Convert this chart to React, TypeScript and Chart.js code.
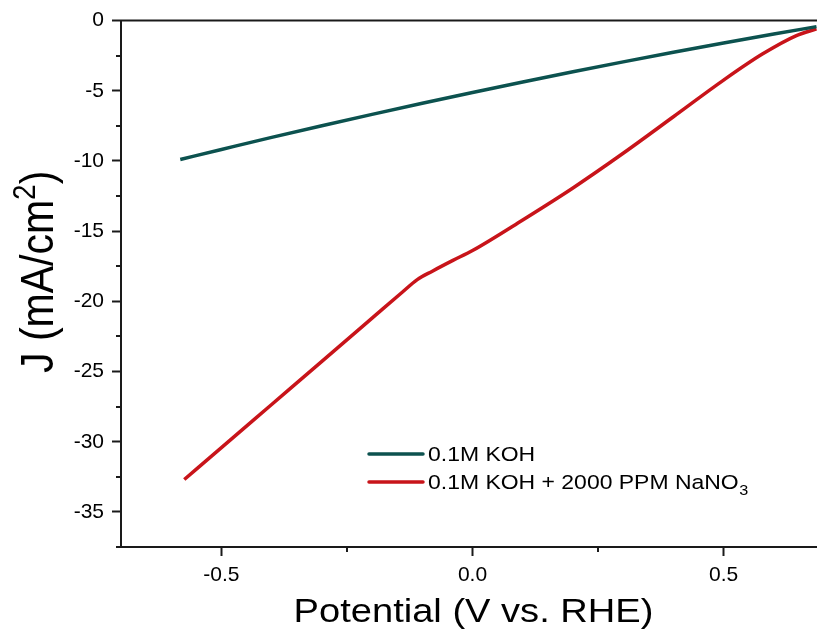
import React, { useEffect, useRef } from 'react';
import { Chart, registerables } from 'chart.js';

Chart.register(...registerables);

// ---- data ----
const seriesNames = ['0.1M KOH', '0.1M KOH + 2000 PPM NaNO₃'];
const seriesColors = ['#0c524f', '#c8141a'];

const kohPotential = [-0.582, -0.5, -0.4, -0.3, -0.2, -0.1, 0.0, 0.1, 0.2, 0.3, 0.4, 0.5, 0.6, 0.685];
const kohCurrent = [-9.89, -9.18, -8.32, -7.49, -6.68, -5.89, -5.12, -4.37, -3.64, -2.94, -2.26, -1.6, -0.96, -0.43];

const nitratePotential = [-0.574, -0.5, -0.4, -0.3, -0.2, -0.14, -0.11, -0.08, -0.04, 0.0, 0.1, 0.2, 0.3, 0.4, 0.5, 0.578, 0.645, 0.685];
const nitrateCurrent = [-32.69, -30.42, -27.35, -24.28, -21.2, -19.35, -18.45, -17.85, -17.1, -16.38, -14.2, -11.92, -9.45, -6.85, -4.24, -2.37, -1.07, -0.59];

const xMinorTicks = [-0.25, 0.25];
const yMinorTicks = [-2.5, -7.5, -12.5, -17.5, -22.5, -27.5, -32.5, -37.5];

const xTitle = 'Potential (V vs. RHE)';
const yTitleMain = 'J (mA/cm';
const yTitleSup = '2';
const yTitleEnd = ')';

const FONT = "'Liberation Sans', Arial, sans-serif";
const AXIS_COLOR = '#1a1a1a';
const STRETCH = 1.12;

const decorPlugin = {
  id: 'decor',
  afterDraw(chart: any) {
    const { ctx, chartArea: a, scales } = chart;
    const x = scales.x;
    const y = scales.y;
    ctx.save();
    ctx.strokeStyle = AXIS_COLOR;
    ctx.lineWidth = 2;
    ctx.beginPath();
    ctx.moveTo(a.left - 1, a.top);
    ctx.lineTo(a.right + 2, a.top);
    ctx.stroke();
    ctx.beginPath();
    for (const v of xMinorTicks) {
      const px = Math.round(x.getPixelForValue(v));
      ctx.moveTo(px, a.bottom);
      ctx.lineTo(px, a.bottom + 5);
    }
    for (const v of yMinorTicks) {
      const py = Math.round(y.getPixelForValue(v));
      ctx.moveTo(a.left, py);
      ctx.lineTo(a.left - 5, py);
    }
    ctx.stroke();

    // x axis title
    ctx.fillStyle = '#000';
    ctx.save();
    ctx.translate((a.left + a.right) / 2 + 4.5, 622);
    ctx.scale(STRETCH, 1);
    ctx.font = `34px ${FONT}`;
    ctx.textAlign = 'center';
    ctx.textBaseline = 'alphabetic';
    ctx.fillText(xTitle, 0, 0);
    ctx.restore();

    // y axis title (rotated, with superscript)
    ctx.save();
    ctx.translate(53, 373);
    ctx.rotate(-Math.PI / 2);
    ctx.scale(1, STRETCH);
    ctx.textAlign = 'left';
    ctx.textBaseline = 'alphabetic';
    ctx.font = `41px ${FONT}`;
    ctx.fillText(yTitleMain, 0, 0);
    let w = ctx.measureText(yTitleMain).width;
    ctx.font = `28px ${FONT}`;
    ctx.fillText(yTitleSup, w, -16);
    w += ctx.measureText(yTitleSup).width;
    ctx.font = `41px ${FONT}`;
    ctx.fillText(yTitleEnd, w, 0);
    ctx.restore();

    // legend
    const lx1 = a.left + 248;
    const lx2 = a.left + 302;
    const tx = a.left + 307;
    const rows = [a.top + 433.5, a.top + 461.5];
    chart.data.datasets.forEach((ds: any, i: number) => {
      const yy = rows[i];
      ctx.strokeStyle = ds.borderColor;
      ctx.lineWidth = 3.5;
      ctx.lineCap = 'round';
      ctx.beginPath();
      ctx.moveTo(lx1, yy);
      ctx.lineTo(lx2, yy);
      ctx.stroke();
      ctx.fillStyle = '#000';
      ctx.save();
      ctx.translate(tx, yy + 1);
      ctx.scale(STRETCH, 1);
      ctx.textBaseline = 'middle';
      ctx.textAlign = 'left';
      const label: string = ds.label;
      const subIdx = label.indexOf('₃');
      ctx.font = `20.5px ${FONT}`;
      if (subIdx >= 0) {
        const base = label.slice(0, subIdx);
        ctx.fillText(base, 0, 0);
        const bw = ctx.measureText(base).width;
        ctx.font = `14.5px ${FONT}`;
        ctx.fillText('3', bw + 0.5, 8);
      } else {
        ctx.fillText(label, 0, 0);
      }
      ctx.restore();
    });
    ctx.restore();
  },
};

export default function App() {
  const ref = useRef<HTMLCanvasElement | null>(null);
  useEffect(() => {
    if (!ref.current) return;
    const chart = new Chart(ref.current, {
      type: 'line',
      data: {
        datasets: [
          {
            label: seriesNames[0],
            data: kohPotential.map((v, i) => ({ x: v, y: kohCurrent[i] })),
            borderColor: seriesColors[0],
            backgroundColor: seriesColors[0],
            borderWidth: 3.5,
            pointRadius: 0,
            cubicInterpolationMode: 'monotone',
          },
          {
            label: seriesNames[1],
            data: nitratePotential.map((v, i) => ({ x: v, y: nitrateCurrent[i] })),
            borderColor: seriesColors[1],
            backgroundColor: seriesColors[1],
            borderWidth: 3.5,
            pointRadius: 0,
            cubicInterpolationMode: 'monotone',
          },
        ],
      },
      options: {
        animation: false,
        responsive: false,
        maintainAspectRatio: false,
        layout: { padding: { left: 0, top: 20, right: 0, bottom: 0 } },
        plugins: { legend: { display: false }, tooltip: { enabled: false } },
        scales: {
          x: {
            type: 'linear',
            min: -0.7,
            max: 0.686,
            afterFit: (s: any) => {
              s.height = 83;
            },
            ticks: {
              stepSize: 0.5,
              includeBounds: false,
              autoSkip: false,
              maxRotation: 0,
              padding: 7,
              color: '#000',
              font: { family: FONT, size: 21 },
              callback: (v: any) => Number(v).toFixed(1),
            },
            grid: {
              display: true,
              drawOnChartArea: false,
              drawTicks: true,
              tickLength: 9,
              tickWidth: 2,
              tickColor: AXIS_COLOR,
            },
            border: { display: true, color: AXIS_COLOR, width: 2 },
            title: { display: false, text: xTitle },
          },
          y: {
            type: 'linear',
            min: -37.5,
            max: 0,
            afterFit: (s: any) => {
              s.width = 121;
            },
            ticks: {
              stepSize: 5,
              includeBounds: false,
              autoSkip: false,
              padding: 8,
              color: '#000',
              font: { family: FONT, size: 21 },
              callback: (v: any) => String(Math.round(Number(v))),
            },
            grid: {
              display: true,
              drawOnChartArea: false,
              drawTicks: true,
              tickLength: 9,
              tickWidth: 2,
              tickColor: AXIS_COLOR,
            },
            border: { display: true, color: AXIS_COLOR, width: 2 },
            title: { display: false, text: yTitleMain + yTitleSup + yTitleEnd },
          },
        },
      },
      plugins: [decorPlugin],
    });
    return () => chart.destroy();
  }, []);
  return (
    <div style={{ position: 'absolute', left: 0, top: 0, width: 817, height: 630, background: '#fff' }}>
      <canvas ref={ref} width={817} height={630} style={{ display: 'block' }} />
    </div>
  );
}
